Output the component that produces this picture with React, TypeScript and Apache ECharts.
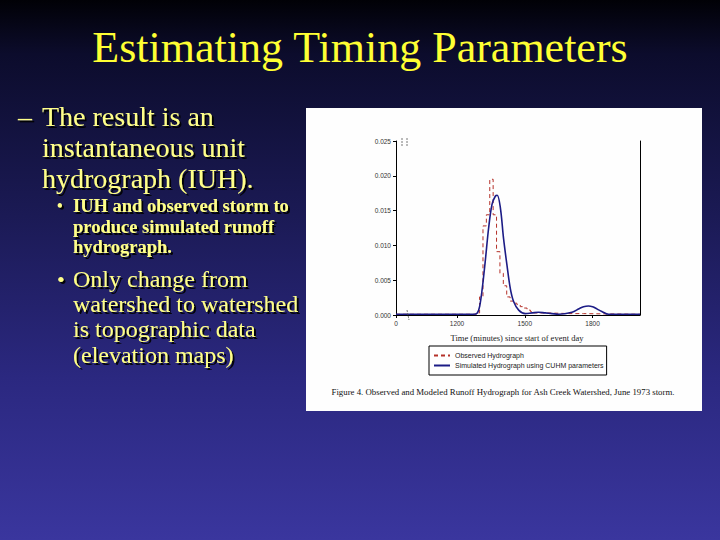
import React, { useEffect, useRef } from "react";
import * as echarts from "echarts";

// ---- Data ----
const xTickValues = [930, 1200, 1500, 1800];
const xTickLabels = ["0", "1200", "1500", "1800"];

const observedTime = [930, 1285, 1300, 1315, 1330, 1345, 1360, 1375, 1390, 1405, 1420, 1435, 1450, 1465, 1480, 1495, 1510, 1525, 1540, 1600, 1700, 1760, 2010];
const observedFlow = [0.0001, 0.0003, 0.0026, 0.0128, 0.0144, 0.0195, 0.0144, 0.0091, 0.006, 0.0042, 0.0026, 0.002, 0.0017, 0.0015, 0.0012, 0.001, 0.0007, 0.0005, 0.0003, 0.0002, 0.0002, 0.0001, 0.0001];

const simTime = [930, 1200, 1274, 1290, 1300, 1311, 1325, 1340, 1355, 1370, 1378, 1392, 1406, 1421, 1436, 1451, 1473, 1502, 1532, 1560, 1590, 1620, 1650, 1709, 1740, 1760, 1782, 1800, 1812, 1841, 1871, 1950, 2010];
const simFlow = [0.0001, 0.0001, 0.0001, 0.0003, 0.0012, 0.0036, 0.0077, 0.0125, 0.0159, 0.0171, 0.0172, 0.0154, 0.011, 0.0072, 0.0038, 0.0019, 0.0007, 0.0002, 0.0003, 0.0004, 0.0003, 0.0002, 0.0001, 0.0004, 0.0009, 0.0012, 0.0013, 0.0012, 0.001, 0.0005, 0.0001, 0.0001, 0.0001];

const seriesNames = ["Observed Hydrograph", "Simulated Hydrograph using CUHM parameters"];

const titleText = "Estimating Timing Parameters";
const mainBullet = ["The result is an", "instantaneous unit", "hydrograph (IUH)."];
const subBullet1 = ["IUH and observed storm to", "produce simulated runoff", "hydrograph."];
const subBullet2 = ["Only change from", "watershed to watershed", "is topographic data", "(elevation maps)"];
const xAxisTitle = "Time (minutes) since start of event day";
const caption = "Figure 4. Observed and Modeled Runoff Hydrograph for Ash Creek Watershed, June 1973 storm.";

const SERIF = "'Liberation Serif', 'Times New Roman', serif";
const SANS = "'Liberation Sans', Arial, sans-serif";

const shadowStyle = {
  textShadowColor: "rgba(0,0,0,0.9)",
  textShadowOffsetX: 2,
  textShadowOffsetY: 2,
  textShadowBlur: 1,
};

export default function App() {
  const ref = useRef<HTMLDivElement>(null);

  useEffect(() => {
    if (!ref.current) return;
    const chart = echarts.init(ref.current, undefined, { renderer: "svg" });

    const yellowText = (lines: string[], x: number, y: number, size: number, lh: number, weight = "normal", color = "#ffff8a") => ({
      type: "text",
      x,
      y,
      z: 10,
      style: {
        text: lines.join("\n"),
        fill: color,
        font: `${weight} ${size}px ${SERIF}`,
        lineHeight: lh,
        align: "left",
        verticalAlign: "top",
        ...shadowStyle,
      },
    });

    const option: any = {
      animation: false,
      grid: { left: 396, right: 80, top: 141, bottom: 225, containLabel: false },
      xAxis: {
        type: "value",
        min: 930,
        max: 2010,
        splitLine: { show: false },
        axisLine: { show: true, lineStyle: { color: "#000", width: 1 } },
        axisTick: { show: true, customValues: xTickValues, length: 3, lineStyle: { color: "#000" } },
        axisLabel: {
          customValues: xTickValues,
          formatter: (v: number) => {
            const i = xTickValues.indexOf(v);
            return i >= 0 ? xTickLabels[i] : "";
          },
          fontSize: 6.5,
          color: "#333",
          fontFamily: SANS,
          margin: 5,
        },
      },
      yAxis: [
        {
          type: "value",
          min: 0,
          max: 0.025,
          interval: 0.005,
          splitLine: { show: false },
          axisLine: { show: true, onZero: false, lineStyle: { color: "#000", width: 1 } },
          axisTick: { show: true, length: 3, lineStyle: { color: "#000" } },
          axisLabel: {
            formatter: (v: number) => v.toFixed(3),
            fontSize: 6.5,
            color: "#333",
            fontFamily: SANS,
            margin: 5,
          },
        },
        {
          type: "value",
          position: "right",
          min: 0,
          max: 0.025,
          interval: 0.005,
          splitLine: { show: false },
          axisLine: { show: true, onZero: false, lineStyle: { color: "#000", width: 1 } },
          axisTick: { show: false },
          axisLabel: { show: false },
        },
      ],
      legend: {
        data: seriesNames,
        orient: "vertical",
        left: 429,
        top: 346,
        borderColor: "#000",
        borderWidth: 1,
        padding: [6, 3, 6, 4],
        itemGap: 3,
        itemWidth: 16,
        itemHeight: 7,
        itemStyle: { opacity: 0 },
        lineStyle: { inactiveWidth: 1 },
        textStyle: { fontSize: 7, color: "#222", fontFamily: SANS },
        backgroundColor: "#fff",
      },
      series: [
        {
          name: seriesNames[0],
          type: "line",
          step: "end",
          showSymbol: false,
          symbol: "none",
          data: observedTime.map((t, i) => [t, observedFlow[i]]),
          lineStyle: { color: "#b5322a", width: 1, type: [4, 3] },
          itemStyle: { color: "#b5322a" },
          z: 3,
        },
        {
          name: seriesNames[1],
          type: "line",
          smooth: 0.35,
          showSymbol: false,
          symbol: "none",
          data: simTime.map((t, i) => [t, simFlow[i]]),
          lineStyle: { color: "#1c1c86", width: 1.6 },
          itemStyle: { color: "#1c1c86" },
          z: 4,
        },
      ],
      graphic: [
        {
          type: "rect",
          z: -10,
          shape: { x: 306, y: 108, width: 396, height: 303 },
          style: { fill: "#fefefe" },
        },
        {
          type: "text",
          x: 360,
          y: 47,
          z: 10,
          style: {
            text: titleText,
            fill: "#ffff33",
            font: `normal 44px ${SERIF}`,
            align: "center",
            verticalAlign: "middle",
          },
        },
        {
          type: "text",
          x: 18,
          y: 102,
          z: 10,
          style: {
            text: "–",
            fill: "#ffff8a",
            font: `normal 28px ${SERIF}`,
            align: "left",
            verticalAlign: "top",
            ...shadowStyle,
          },
        },
        yellowText(mainBullet, 42, 101, 28, 31),
        {
          type: "text",
          x: 57,
          y: 197,
          z: 10,
          style: { text: "•", fill: "#ffff8a", font: `bold 16px ${SERIF}`, align: "left", verticalAlign: "top", ...shadowStyle },
        },
        yellowText(subBullet1, 73, 196, 18.5, 20.5, "bold"),
        {
          type: "text",
          x: 57,
          y: 268,
          z: 10,
          style: { text: "•", fill: "#ffff8a", font: `normal 22px ${SERIF}`, align: "left", verticalAlign: "top", ...shadowStyle },
        },
        yellowText(subBullet2, 73, 266, 24, 25.3),
        {
          type: "text",
          x: 517,
          y: 338,
          z: 10,
          style: {
            text: xAxisTitle,
            fill: "#222",
            font: `normal 8.5px ${SERIF}`,
            align: "center",
            verticalAlign: "middle",
          },
        },
        {
          type: "text",
          x: 503,
          y: 392,
          z: 10,
          style: {
            text: caption,
            fill: "#111",
            font: `normal 8.8px ${SERIF}`,
            align: "center",
            verticalAlign: "middle",
          },
        },
        // axis break marks
        { type: "line", z: 5, shape: { x1: 402, y1: 138, x2: 402, y2: 147 }, style: { stroke: "#555", lineWidth: 0.8, lineDash: [2, 1] } },
        { type: "line", z: 5, shape: { x1: 407, y1: 138, x2: 407, y2: 147 }, style: { stroke: "#555", lineWidth: 0.8, lineDash: [2, 1] } },
        { type: "line", z: 5, shape: { x1: 407, y1: 310, x2: 409, y2: 320 }, style: { stroke: "#555", lineWidth: 0.8, lineDash: [2, 1] } },
      ],
    };

    chart.setOption(option);
    return () => chart.dispose();
  }, []);

  return (
    <div
      ref={ref}
      style={{
        position: "absolute",
        left: 0,
        top: 0,
        width: 720,
        height: 540,
        background: "linear-gradient(to bottom, #010106 0%, #0c0c2c 10%, #1b1a55 40%, #2b2880 70%, #3a369e 100%)",
      }}
    />
  );
}
